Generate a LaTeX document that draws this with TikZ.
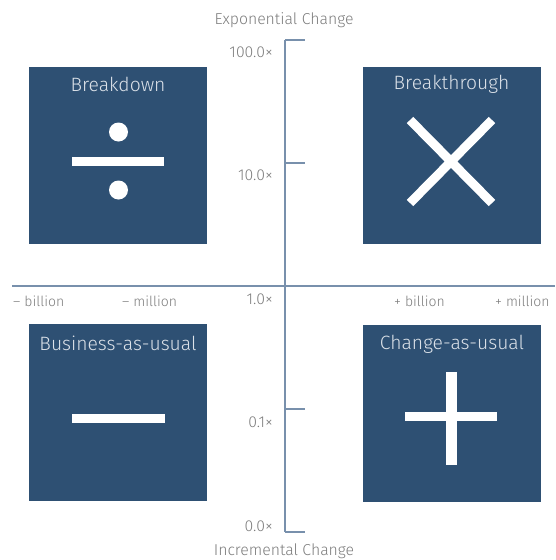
\documentclass[tikz,border=0pt]{standalone}
\usepackage{fontspec}
\setmainfont{Fira Sans}[UprightFont={* Light}]
\usetikzlibrary{positioning}
\definecolor{quadblue}{HTML}{2E5073}
\definecolor{axisblue}{HTML}{7890AC}
\definecolor{labgrey}{HTML}{7C7C7C}
\definecolor{titlegrey}{HTML}{DCE2E9}

\begin{document}
\begin{tikzpicture}[x=1pt,y=-1pt,
        quadrant/.style={fill=quadblue,minimum width=178pt,minimum height=177pt,inner sep=0pt},
        title/.style={text=titlegrey,font=\fontsize{19.3}{19.3}\selectfont},
        axis/.style={draw=axisblue,line width=1.4pt},
        lab/.style={text=labgrey,font=\fontsize{14}{14}\selectfont,inner sep=0pt},
        ylab/.style={lab,font=\fontsize{15.8}{15.8}\selectfont},
        sym/.style={fill=white}]
        \useasboundingbox (0,0) rectangle (555,560);
        % quadrants
        \node[quadrant](bd) at (118,155.5){};
        \node[quadrant](bt) at (451.5,155.5){};
        \node[quadrant](bau) at (118,412.5){};
        \node[quadrant](cau) at (452,413.5){};
        \node[title](bdt) at ([yshift=-18pt]bd.north){Breakdown};
        \node[title](btt) at ([yshift=-17.5pt]bt.north){Breakthrough};
        \node[title](baut) at ([yshift=-20pt]bau.north){Business-as-usual};
        \node[title](caut) at ([yshift=-19.5pt]cau.north){Change-as-usual};
        % symbols
        \fill[sym] (72,157) rectangle (164,166);
        \fill[sym] (118.5,132) circle (9.5) (118.5,190) circle (9.5);
        \draw[white,line width=9pt] (410,120) -- (492,203) (410,203) -- (492,120);
        \fill[sym] (72,414) rectangle (165,423);
        \fill[sym] (405,412) rectangle (497,421);
        \fill[sym] (446,372) rectangle (457,465);
        % axes
        \coordinate (ytop) at (285,40);
        \coordinate (ybot) at (285,532);
        \coordinate (xl) at (12,286);
        \coordinate (xr) at (555,286);
        \draw[axis] (ytop) -- (ybot);
        \draw[axis] (xl) -- (xr);
        \foreach \y in {40,163,409,532}
            \draw[axis] (285,\y) -- (305,\y);
        % labels
        \node[ylab](expo) at (284,20){Exponential Change};
        \node[ylab](incr) at (284,551){Incremental Change};
        \node[ylab,anchor=east](t100) at (273,52){100.0×};
        \node[ylab,anchor=east](t10) at (273,175){10.0×};
        \node[ylab,anchor=east](t1) at (273,299){1.0×};
        \node[ylab,anchor=east](t01) at (273,422){0.1×};
        \node[ylab,anchor=east](t00) at (273,526){0.0×};
        \node[lab,anchor=west](mbil) at (13,301){– billion};
        \node[lab,anchor=west](mmil) at (122,301){– million};
        \node[lab,anchor=west](pbil) at (394,301){+ billion};
        \node[lab,anchor=west](pmil) at (495,301){+ million};
\end{tikzpicture}
\end{document}
